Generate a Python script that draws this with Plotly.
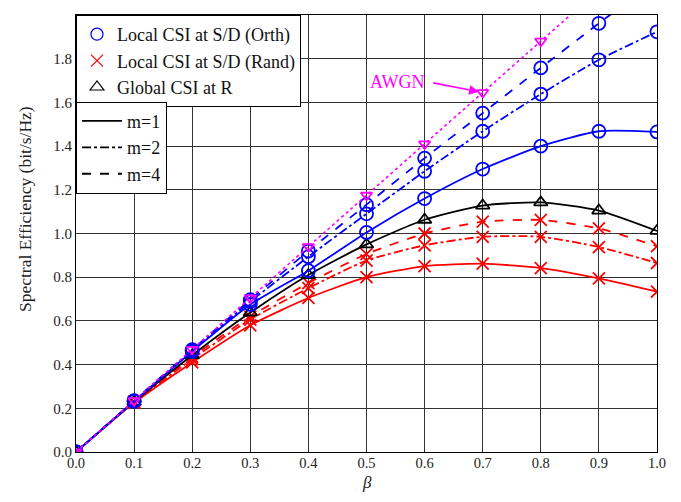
import plotly.graph_objects as go

beta = [0.0, 0.1, 0.2, 0.3, 0.4, 0.5, 0.6, 0.7, 0.8, 0.9, 1.0]

awgn_beta = [0.0, 0.1, 0.2, 0.3, 0.4, 0.5, 0.6, 0.7, 0.8, 0.9]
awgn = [0.0, 0.235, 0.47, 0.705, 0.94, 1.175, 1.41, 1.645, 1.88, 2.115]

orth_m1 = [0.0, 0.232, 0.46, 0.675, 0.83, 1.005, 1.16, 1.295, 1.40, 1.468, 1.465]
orth_m2 = [0.0, 0.234, 0.465, 0.688, 0.894, 1.09, 1.285, 1.468, 1.638, 1.795, 1.923]
orth_m4 = [0.0, 0.235, 0.468, 0.697, 0.92, 1.132, 1.345, 1.551, 1.758, 1.962, 2.16]

global_m1 = [0.0, 0.23, 0.443, 0.638, 0.81, 0.95, 1.063, 1.128, 1.142, 1.105, 1.012]

rand_m1 = [0.0, 0.225, 0.41, 0.58, 0.705, 0.80, 0.851, 0.862, 0.842, 0.795, 0.734]
rand_m2 = [0.0, 0.228, 0.425, 0.606, 0.75, 0.876, 0.946, 0.985, 0.985, 0.938, 0.865]
rand_m4 = [0.0, 0.23, 0.435, 0.62, 0.773, 0.906, 1.0, 1.054, 1.062, 1.023, 0.942]

x_ticks = [0.0, 0.1, 0.2, 0.3, 0.4, 0.5, 0.6, 0.7, 0.8, 0.9, 1.0]
y_ticks = [0.0, 0.2, 0.4, 0.6, 0.8, 1.0, 1.2, 1.4, 1.6, 1.8, 2.0]

BLUE = "#0000ff"
RED = "#ff0000"
BLACK = "#000000"
MAG = "#ff00ff"
FONT = "Liberation Serif"

fig = go.Figure()

def add_curve(y, color, dash, symbol, size, xs=beta, width=1.8):
    fig.add_trace(go.Scatter(
        x=xs, y=y, mode="lines+markers", showlegend=False,
        line=dict(color=color, dash=dash, width=width, shape="spline", smoothing=0.6),
        marker=dict(symbol=symbol, size=size, color=color, line=dict(width=1.8, color=color)),
        cliponaxis=True,
    ))

add_curve(rand_m1, RED, "solid", "x-thin-open", 12)
add_curve(rand_m2, RED, "dashdot", "x-thin-open", 12)
add_curve(rand_m4, RED, "dash", "x-thin-open", 12)
add_curve(global_m1, BLACK, "solid", "triangle-up-open", 12)
add_curve(orth_m1, BLUE, "solid", "circle-open", 13)
add_curve(orth_m2, BLUE, "dashdot", "circle-open", 13)
add_curve(orth_m4, BLUE, "dash", "circle-open", 13)
add_curve(awgn, MAG, "dot", "triangle-down-open", 10, xs=awgn_beta, width=1.6)

# legend 1: marker meaning
for name, color, symbol in [
    ("Local CSI at S/D (Orth)", BLUE, "circle-open"),
    ("Local CSI at S/D (Rand)", RED, "x-thin-open"),
    ("Global CSI at R", BLACK, "triangle-up-open"),
]:
    fig.add_trace(go.Scatter(
        x=[None], y=[None], mode="markers", name=name, legend="legend",
        marker=dict(symbol=symbol, size=12, color=color, line=dict(width=1.2, color=color)),
    ))

# legend 2: line style meaning
for name, dash in [("m=1", "solid"), ("m=2", "dashdot"), ("m=4", "dash")]:
    fig.add_trace(go.Scatter(
        x=[None], y=[None], mode="lines", name=name, legend="legend2",
        line=dict(color=BLACK, dash=dash, width=1.8),
    ))

fig.add_annotation(
    x=0.7, y=1.645, xref="x", yref="y", text="", showarrow=True,
    ax=-51, ay=-10, axref="pixel", ayref="pixel",
    arrowhead=2, arrowsize=1.2, arrowwidth=1.6, arrowcolor=MAG, standoff=4,
)
fig.add_annotation(
    x=0.553, y=1.695, xref="x", yref="y", text="AWGN", showarrow=False,
    font=dict(family=FONT, size=18, color=MAG),
)

# axis titles
fig.add_annotation(
    x=0, y=0.556, xref="paper", yref="paper", xanchor="center", yanchor="middle",
    xshift=-51, textangle=-90, showarrow=False,
    text="Spectral Efficiency (bit/s/Hz)",
    font=dict(family=FONT, size=17.5, color="#222"),
)
fig.add_annotation(
    x=0.5, y=0, xref="paper", yref="paper", xanchor="center", yanchor="bottom",
    yshift=-41, showarrow=False, text="<i>β</i>", borderpad=0,
    font=dict(family=FONT, size=17, color="#222"),
)

fig.update_layout(
    width=665, height=486,
    margin=dict(l=68, r=16, t=7, b=42, autoexpand=False),
    paper_bgcolor="white", plot_bgcolor="white",
    font=dict(family=FONT, size=15, color="#222"),
    legend=dict(
        x=0, y=1, xanchor="left", yanchor="top",
        bgcolor="white", bordercolor=BLACK, borderwidth=1,
        font=dict(family=FONT, size=18, color="#111"),
        tracegroupgap=0, itemwidth=30,
    ),
    legend2=dict(
        x=0, y=0.8015, xanchor="left", yanchor="top",
        bgcolor="white", bordercolor=BLACK, borderwidth=1,
        font=dict(family=FONT, size=18, color="#111"),
        tracegroupgap=0, itemwidth=40,
    ),
)

fig.update_xaxes(
    range=[0, 1.0], tickvals=x_ticks, tickformat=".1f",
    tickfont=dict(size=14.5), ticklabelstandoff=-2,
    showgrid=True, gridcolor="#333", gridwidth=1,
    showline=True, linecolor=BLACK, linewidth=1, mirror=True,
    zeroline=False, ticks="", automargin=False,
)
fig.update_yaxes(
    range=[0, 2.0], tickvals=y_ticks, tickformat=".1f",
    showgrid=True, gridcolor="#333", gridwidth=1,
    showline=True, linecolor=BLACK, linewidth=1, mirror=True,
    zeroline=False, ticks="", automargin=False,
)

fig.write_html("out.html")
